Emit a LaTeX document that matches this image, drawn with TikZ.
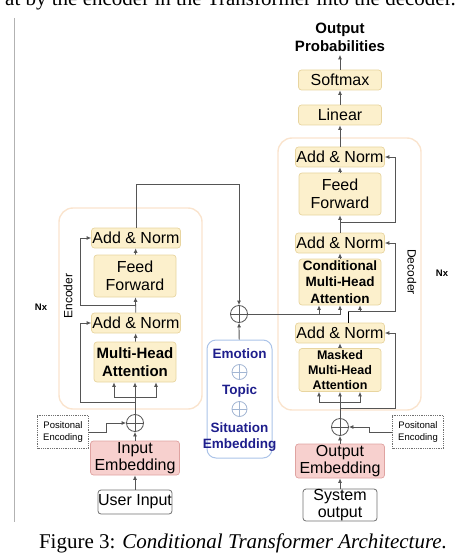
\documentclass[tikz,border=0pt]{standalone}
\usepackage{fontspec}
\setmainfont{Liberation Sans}
\newfontfamily\capfont{Liberation Serif}
\usepackage{xcolor}
\definecolor{colYellow}{HTML}{FCF0CC}
\definecolor{colYellowLine}{HTML}{E8D5A0}
\definecolor{colPink}{HTML}{F7D0CE}
\definecolor{colPinkLine}{HTML}{DFA3A1}
\definecolor{colStack}{HTML}{FAE4CE}
\definecolor{colCond}{HTML}{ABC3E8}
\definecolor{colNavy}{HTML}{1E1E8C}
\definecolor{colLine}{HTML}{555555}
\definecolor{colGrayLine}{HTML}{707070}
\usepackage{tikz}
\usetikzlibrary{arrows.meta}

\begin{document}
\begin{tikzpicture}[
		x=1pt, y=-1pt,
		every node/.style={font=\fontsize{16}{17.5}\selectfont},
		blk/.style={draw=colYellowLine, fill=colYellow, rounded corners=3pt, line width=0.7pt,
		            inner sep=0pt, align=center, minimum width=82pt},
		addnorm/.style={blk, minimum width=89pt, minimum height=20pt},
		embblk/.style={blk, draw=colPinkLine, fill=colPink, minimum width=89pt, minimum height=34pt},
		ioblk/.style={draw=colGrayLine, fill=white, rounded corners=3pt, line width=0.8pt,
		              inner sep=0pt, align=center, minimum width=74pt},
		posblk/.style={draw=colGrayLine, densely dotted, line width=0.8pt, inner sep=0pt, align=center,
		               minimum width=51pt, minimum height=33pt, font=\fontsize{9.5}{11.5}\selectfont},
		stack/.style={draw=colStack, rounded corners=14pt, line width=1.4pt, inner sep=0pt},
		oplus/.style={circle, draw=#1, line width=0.8pt, minimum size=17pt, inner sep=0pt,
		              path picture={\draw[#1, line width=0.8pt]
		                (path picture bounding box.north) -- (path picture bounding box.south)
		                (path picture bounding box.west) -- (path picture bounding box.east);}},
		oplus/.default=colLine,
		arr/.style={draw=colLine, line width=0.8pt, -{Latex[length=4.5pt,width=4pt]}},
		condtxt/.style={font=\bfseries\fontsize{13.5}{15.5}\selectfont, text=colNavy, align=center},
		sidelabel/.style={font=\fontsize{12}{14}\selectfont},
		nxlabel/.style={font=\bfseries\fontsize{9.5}{11}\selectfont}
	]
	\useasboundingbox (0,0) rectangle (474,553);

	% page text round the figure
	\node[anchor=base east, font=\capfont\fontsize{21}{23}\selectfont, inner sep=0pt]
	     (prevline) at (456,5.5) {at by the encoder in the Transformer into the decoder.};
	\node[anchor=base, font=\capfont\fontsize{21}{23}\selectfont, inner sep=0pt]
	     (caption) at (243,548) {Figure 3: \textit{Conditional Transformer Architecture.}};
	\draw[gray!60, line width=1pt] (14,18) -- (14,522);

	% stacks
	\node[stack, minimum width=143pt, minimum height=201pt] (encStack) at (130.5,308.5) {};
	\node[stack, minimum width=143pt, minimum height=272pt] (decStack) at (349.5,274) {};
	\node[sidelabel, rotate=90] (encLabel) at (68,296) {Encoder};
	\node[sidelabel, rotate=-90] (decLabel) at (412,272) {Decoder};
	\node[nxlabel] (encNx) at (41,307) {Nx};
	\node[nxlabel] (decNx) at (442,273) {Nx};

	% encoder
	\node[ioblk, minimum height=24pt] (userIn) at (135,502) {User Input};
	\node[embblk] (inEmb) at (135,458) {Input\\Embedding};
	\node[oplus] (ePlus) at (135,423) {};
	\node[posblk] (ePos) at (63,432) {Positonal\\Encoding};
	\node[blk, minimum height=40pt, font=\bfseries\fontsize{15}{17.5}\selectfont] (eMHA) at (135,362) {Multi-Head\\Attention};
	\node[addnorm] (eAddLow) at (136,323) {Add \& Norm};
	\node[blk, minimum height=42pt] (eFF) at (135,276) {Feed\\Forward};
	\node[addnorm] (eAddTop) at (136,238) {Add \& Norm};
	\coordinate (eSplit) at (135,397);
	\coordinate (eRes1) at (135,402);
	\coordinate (eRes2) at (135,305);

	% conditions
	\node[draw=colCond, line width=1pt, rounded corners=9pt, minimum width=65pt, minimum height=118pt]
	     (condBox) at (239.5,399) {};
	\node[condtxt] (emotion) at (239.5,354) {Emotion};
	\node[oplus=colCond!80!gray, minimum size=15pt] (cPlus1) at (239.5,372) {};
	\node[condtxt] (topic) at (239.5,391) {Topic};
	\node[oplus=colCond!80!gray, minimum size=15pt] (cPlus2) at (239.5,409) {};
	\node[condtxt] (situation) at (239.5,437) {Situation\\Embedding};
	\node[oplus] (mPlus) at (239,314) {};

	% decoder
	\node[ioblk, minimum height=31pt] (sysOut) at (340,505) {System\\output};
	\node[embblk] (outEmb) at (340,461) {Output\\Embedding};
	\node[oplus] (dPlus) at (340,427) {};
	\node[posblk] (dPos) at (418,432) {Positonal\\Encoding};
	\node[blk, minimum height=43pt, font=\bfseries\fontsize{12.5}{15}\selectfont] (dMasked) at (340,370) {Masked\\Multi-Head\\Attention};
	\node[addnorm] (dAddLow) at (340,333) {Add \& Norm};
	\node[blk, minimum height=46pt, font=\bfseries\fontsize{13.5}{16.3}\selectfont] (dCond) at (340,282) {Conditional\\Multi-Head\\Attention};
	\node[addnorm] (dAddMid) at (340,243) {Add \& Norm};
	\node[blk, minimum height=42pt] (dFF) at (340,194) {Feed\\Forward};
	\node[addnorm] (dAddTop) at (340,157) {Add \& Norm};
	\node[blk, minimum width=83pt, minimum height=20pt] (linear) at (340,115) {Linear};
	\node[blk, minimum width=83pt, minimum height=20pt] (softmax) at (340,80) {Softmax};
	\node[font=\bfseries\fontsize{15}{18}\selectfont, align=center] (outProb) at (340,37) {Output\\Probabilities};
	\coordinate (dSplit) at (340,402);
	\coordinate (dRes1) at (340,408);
	\coordinate (dRes2) at (340,222);

	% encoder connectors
	\draw[arr] (userIn) -- (inEmb);
	\draw[arr] (inEmb) -- (ePlus);
	\draw[arr] (ePos.east) -- ++(17,0) |- (ePlus.west);
	\draw[arr] (ePlus) -- (eMHA);
	\draw[arr] (eSplit) -| ([xshift=-21pt]eMHA.south);
	\draw[arr] (eSplit) -| ([xshift=21pt]eMHA.south);
	\draw[arr] (eRes1) -- ++(-55,0) |- (eAddLow.west);
	\draw[arr] (eMHA) -- (eAddLow);
	\draw[arr] (eAddLow) -- (eFF);
	\draw[arr] (eRes2) -- ++(-55,0) |- (eAddTop.west);
	\draw[arr] (eFF) -- (eAddTop);
	\draw[arr] (eAddTop.north) -- ++(0,-43) -| (mPlus.north);
	\draw[arr] (condBox) -- (mPlus);
	\draw[arr] (mPlus.east) -| ([xshift=-21pt]dCond.south);
	\draw[arr] (mPlus.east) -| (dCond.south);

	% decoder connectors
	\draw[arr] (sysOut) -- (outEmb);
	\draw[arr] (outEmb) -- (dPlus);
	\draw[arr] (dPos.west) -- ++(-23,0) |- (dPlus.east);
	\draw[arr] (dPlus) -- (dMasked);
	\draw[arr] (dSplit) -| ([xshift=-21pt]dMasked.south);
	\draw[arr] (dSplit) -| ([xshift=20pt]dMasked.south);
	\draw[arr] (dRes1) -- ++(55,0) |- (dAddLow.east);
	\draw[arr] (dMasked) -- (dAddLow);
	\draw ([xshift=8pt]dAddLow.north) -- ++(0,-11) coordinate (dQ);
	\draw[arr] (dQ) -| ([xshift=20pt]dCond.south);
	\draw[arr] (dQ) -- ++(47,0) |- (dAddMid.east);
	\draw[arr] (dCond) -- (dAddMid);
	\draw[arr] (dAddMid) -- (dFF);
	\draw[arr] (dRes2) -- ++(55,0) |- (dAddTop.east);
	\draw[arr] (dFF) -- (dAddTop);
	\draw[arr] (dAddTop) -- (linear);
	\draw[arr] (linear) -- (softmax);
	\draw[arr] (softmax) -- (outProb);
\end{tikzpicture}
\end{document}
